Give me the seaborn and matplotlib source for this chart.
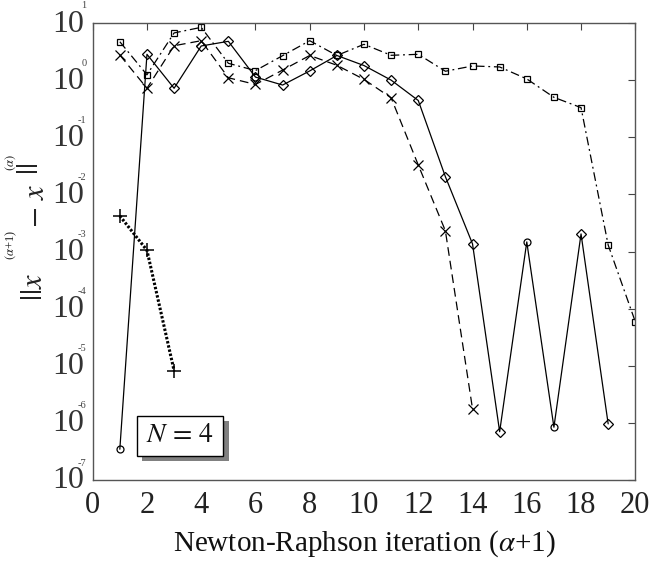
import matplotlib
matplotlib.use("Agg")
import matplotlib.pyplot as plt
from matplotlib import transforms
from matplotlib.patches import Rectangle
from matplotlib.ticker import NullLocator
import seaborn as sns

# Newton-Raphson residual norms per iteration
iter_sq = list(range(1, 21))
res_sq = [4.7, 1.24, 6.7, 8.4, 1.97, 1.47, 2.68, 4.9, 2.7, 4.24,
          2.72, 2.83, 1.43, 1.77, 1.70, 1.05, 0.50, 0.33, 1.3e-3, 5.9e-5]

iter_x = list(range(1, 15))
res_x = [2.75, 0.72, 4.0, 4.9, 1.1, 0.84, 1.5, 2.7, 1.82, 1.03,
         0.49, 0.0327, 2.3e-3, 1.76e-6]

iter_sol = list(range(1, 20))
res_sol = [3.46e-7, 2.83, 0.72, 3.96, 4.78, 1.13, 0.82, 1.45, 2.7, 1.8,
           1.0, 0.44, 0.0204, 1.36e-3, 7.0e-7, 1.47e-3, 8.4e-7, 2.03e-3, 9.6e-7]
circle_at = [1, 6, 9, 16, 17]
diamond_at = [2, 3, 4, 5, 6, 7, 8, 9, 10, 11, 12, 13, 14, 15, 18, 19]

iter_plus = [1, 2, 3]
res_plus = [4.2e-3, 1.05e-3, 8.2e-6]

x_ticks = list(range(0, 21, 2))
y_exponents = list(range(-7, 2))

sns.set_theme(style="white")
plt.rcParams["font.family"] = ["Liberation Serif", "DejaVu Serif"]
plt.rcParams["mathtext.fontset"] = "stix"

W, H = 657, 562
fig, ax = plt.subplots(figsize=(W / 100, H / 100), dpi=100)
fig.subplots_adjust(left=92.7 / W, right=635.3 / W, bottom=1 - 480 / H, top=1 - 23 / H)

common = dict(ax=ax, color="black", estimator=None, sort=False, legend=False)

sns.lineplot(x=iter_sq, y=res_sq, lw=0.9, linestyle=(0, (7, 3, 1.5, 3)),
             marker="s", ms=4.5, mfc="none", mec="black", mew=0.9, **common)
sns.lineplot(x=iter_x, y=res_x, lw=0.9, linestyle=(0, (7, 4)),
             marker="x", ms=6.5, mec="black", mew=0.9, **common)
sns.lineplot(x=iter_sol, y=res_sol, lw=0.9, linestyle="-", **common)
sns.lineplot(x=[iter_sol[i - 1] for i in diamond_at],
             y=[res_sol[i - 1] for i in diamond_at], lw=0, linestyle="none",
             marker="D", ms=5.3, mfc="none", mec="black", mew=0.9, **common)
sns.lineplot(x=[iter_sol[i - 1] for i in circle_at],
             y=[res_sol[i - 1] for i in circle_at], lw=0, linestyle="none",
             marker="o", ms=5, mfc="none", mec="black", mew=0.9, **common)
sns.lineplot(x=iter_plus, y=res_plus, lw=2.2, linestyle=(0, (0.8, 0.6)),
             marker="+", ms=10, mec="black", mew=1.1, **common)

ax.set_yscale("log")
ax.set_xlim(0, 20)
ax.set_ylim(1e-7, 10)
ax.set_xticks(x_ticks)
ax.set_xticklabels([str(v) for v in x_ticks], fontsize=22, color="#222222")
ax.set_yticks([10.0 ** k for k in y_exponents])
ax.set_yticklabels([])
ax.yaxis.set_minor_locator(NullLocator())
ax.xaxis.set_minor_locator(NullLocator())
ax.tick_params(axis="both", which="major", direction="in", length=5, width=0.8,
               color="#444444", top=True, right=True)
ax.tick_params(axis="x", pad=8)
for sp in ax.spines.values():
    sp.set_color("#555555")
    sp.set_linewidth(1.0)

# y tick labels as 10 with a small raised exponent
blend = transforms.blended_transform_factory(ax.transAxes, ax.transData)
for k in y_exponents:
    t_base = transforms.offset_copy(blend, fig=fig, x=-9, y=-1, units="dots")
    ax.text(0, 10.0 ** k, "10", transform=t_base, ha="right", va="center",
            fontsize=23, color="#333333")
    t_exp = transforms.offset_copy(blend, fig=fig, x=-6, y=17, units="dots")
    ax.text(0, 10.0 ** k, str(k), transform=t_exp, ha="right", va="center",
            fontsize=7.5, color="#444444")

ax.set_xlabel(r"Newton-Raphson iteration ($\alpha$+1)", fontsize=21,
              color="#111111", labelpad=6)


def px(x, y):
    return x / W, 1 - y / H


# y axis label ||x^(a+1) - x^(a)|| assembled in pieces
fig.text(*px(34, 287), r"$||x$", rotation=90, ha="center", va="center",
         fontsize=22, color="#222222")
fig.text(*px(11, 245), r"$(\alpha$+1)", rotation=90, ha="center", va="center",
         fontsize=9, color="#222222")
fig.text(*px(36, 206), r"$-\ x$", rotation=90, ha="center", va="center",
         fontsize=22, color="#222222")
fig.text(*px(11, 163), r"$(\alpha)$", rotation=90, ha="center", va="center",
         fontsize=9, color="#222222")
fig.text(*px(31, 169), r"$||$", rotation=90, ha="center", va="center",
         fontsize=22, color="#222222")

# N = 4 annotation box with drop shadow
aw, ah = 542.6, 457.0
bx0, bx1 = (136.7 - 92.7) / aw, (223.3 - 92.7) / aw
by0, by1 = (480 - 455.7) / ah, (480 - 415.7) / ah
ax.add_patch(Rectangle((bx0 + 5.5 / aw, by0 - 5.5 / ah), bx1 - bx0, by1 - by0,
                       transform=ax.transAxes, facecolor="#808080",
                       edgecolor="none", zorder=5, clip_on=False))
ax.add_patch(Rectangle((bx0, by0), bx1 - bx0, by1 - by0, transform=ax.transAxes,
                       facecolor="white", edgecolor="black", lw=1.0, zorder=6,
                       clip_on=False))
ax.text((bx0 + bx1) / 2, (by0 + by1) / 2, r"$N\,=\,4$", transform=ax.transAxes,
        ha="center", va="center", fontsize=20, color="#111111", zorder=7)

fig.savefig("out.png", dpi=100)
